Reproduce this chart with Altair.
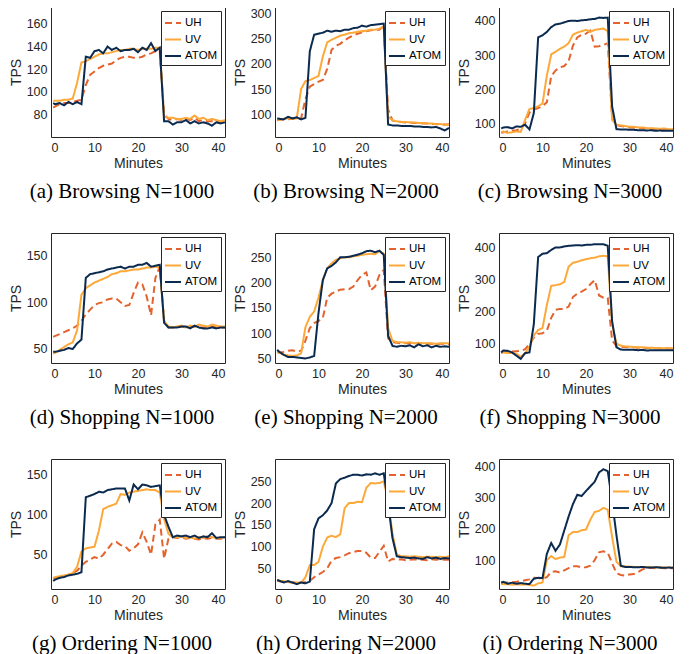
import altair as alt
import pandas as pd

MINUTES = [0.5, 1, 2, 3, 4, 5, 6, 7, 8, 9, 10, 11, 12, 13, 14, 15, 16, 17, 18, 19, 20,
           21, 22, 23, 24, 25, 26, 27, 28, 29, 30, 31, 32, 33, 34, 35, 36, 37, 38, 39, 40]

SERIES = ["UH", "UV", "ATOM"]
COLORS = ["#E4632D", "#FDA93A", "#0B2A4F"]
DASHES = [[7, 4], [1, 0], [1, 0]]
X_TICKS = [0, 10, 20, 30, 40]

# (a) Browsing N=1000
UH_A = [86, 87, 89, 90, 90, 91, 92, 93, 106, 115, 118, 121, 123, 124, 125, 128, 130, 131, 131, 130, 130,
        131, 133, 134, 136, 136, 80, 76, 75, 76, 75, 76, 75, 77, 74, 75, 74, 74, 74, 73, 74]
UV_A = [92, 92, 92, 93, 93, 94, 108, 126, 127, 129, 131, 133, 134, 134, 135, 136, 137, 137, 138, 138, 137,
        138, 138, 138, 139, 139, 78, 77, 77, 76, 76, 77, 76, 79, 76, 77, 75, 76, 75, 74, 75]
ATOM_A = [90, 89, 90, 88, 91, 89, 91, 89, 131, 130, 136, 137, 134, 140, 137, 139, 136, 137, 137, 138, 135,
          139, 137, 143, 136, 139, 74, 74, 71, 73, 73, 75, 72, 74, 72, 73, 72, 70, 73, 72, 73]

# (b) Browsing N=2000
UH_B = [88, 89, 90, 90, 91, 91, 92, 130, 155, 160, 165, 168, 190, 228, 236, 240, 247, 252, 257, 260, 263,
        265, 267, 268, 268, 275, 110, 88, 86, 85, 84, 84, 83, 83, 82, 82, 81, 81, 80, 80, 80]
UV_B = [90, 89, 91, 92, 91, 92, 150, 166, 168, 172, 176, 215, 243, 248, 252, 256, 258, 261, 262, 264, 265,
        266, 268, 268, 270, 274, 95, 88, 86, 85, 85, 84, 84, 83, 83, 82, 82, 80, 81, 79, 80]
ATOM_B = [92, 91, 90, 95, 92, 94, 90, 93, 225, 258, 260, 262, 266, 264, 266, 265, 268, 268, 271, 272, 276,
          274, 277, 278, 279, 280, 80, 78, 78, 77, 77, 77, 76, 76, 75, 75, 74, 75, 72, 68, 73]

# (c) Browsing N=3000
UH_C = [72, 74, 76, 78, 80, 84, 100, 132, 140, 145, 150, 162, 238, 255, 264, 268, 282, 328, 352, 360, 363,
        372, 325, 326, 330, 335, 115, 95, 92, 90, 88, 88, 86, 86, 85, 84, 83, 84, 82, 82, 82]
UV_C = [75, 76, 72, 74, 76, 75, 110, 142, 145, 150, 158, 240, 302, 310, 318, 325, 335, 360, 366, 370, 374,
        368, 374, 376, 378, 370, 110, 96, 94, 92, 90, 90, 88, 88, 86, 86, 85, 84, 85, 83, 82]
ATOM_C = [85, 88, 89, 85, 91, 90, 96, 82, 130, 352, 358, 368, 382, 390, 392, 396, 400, 401, 400, 402, 403,
          405, 406, 410, 409, 410, 150, 83, 82, 82, 81, 81, 80, 80, 79, 80, 78, 79, 78, 78, 78]

# (d) Shopping N=1000
UH_D = [63, 64, 66, 68, 70, 72, 75, 80, 87, 92, 97, 99, 100, 103, 104, 104, 100, 96, 97, 110, 121,
        119, 106, 86, 126, 138, 80, 73, 73, 74, 74, 73, 73, 74, 73, 73, 73, 74, 73, 73, 73]
UV_D = [45, 46, 49, 52, 55, 57, 70, 108, 115, 118, 121, 123, 125, 127, 130, 131, 133, 133, 134, 135, 135,
        136, 137, 137, 138, 137, 80, 74, 73, 74, 75, 73, 75, 74, 76, 75, 74, 76, 75, 74, 74]
ATOM_D = [47, 47, 48, 49, 51, 50, 56, 60, 126, 130, 131, 132, 133, 135, 136, 137, 138, 136, 138, 138, 140,
          140, 142, 138, 139, 140, 78, 73, 73, 73, 74, 74, 72, 75, 73, 72, 72, 73, 72, 73, 73]

# (e) Shopping N=2000
UH_E = [62, 62, 63, 65, 66, 64, 65, 85, 110, 120, 124, 130, 170, 178, 182, 186, 187, 187, 192, 205, 215,
        220, 185, 192, 215, 225, 90, 82, 81, 80, 80, 80, 80, 79, 80, 79, 79, 78, 79, 79, 78]
UV_E = [63, 61, 58, 56, 55, 56, 60, 112, 132, 143, 170, 205, 228, 238, 245, 248, 250, 250, 252, 253, 255,
        256, 257, 256, 262, 257, 110, 85, 82, 82, 81, 82, 80, 81, 80, 80, 80, 79, 80, 80, 80]
ATOM_E = [67, 63, 57, 53, 53, 52, 51, 50, 52, 55, 140, 205, 228, 233, 240, 250, 250, 251, 253, 255, 258,
          262, 263, 260, 263, 255, 95, 75, 73, 75, 74, 76, 72, 78, 74, 76, 72, 75, 73, 74, 73]

# (f) Shopping N=3000
UH_F = [71, 73, 76, 75, 76, 77, 82, 98, 118, 130, 132, 140, 180, 205, 208, 208, 215, 245, 256, 262, 270,
        285, 298, 250, 243, 242, 110, 92, 90, 89, 88, 88, 87, 87, 86, 86, 85, 85, 85, 84, 84]
UV_F = [71, 72, 70, 70, 68, 58, 70, 90, 125, 142, 148, 220, 280, 282, 285, 292, 340, 352, 355, 360, 363,
        366, 368, 372, 374, 372, 160, 100, 93, 91, 90, 89, 88, 88, 87, 87, 86, 85, 85, 84, 84]
ATOM_F = [72, 78, 77, 72, 62, 52, 70, 72, 160, 370, 380, 382, 392, 400, 400, 403, 405, 406, 407, 406, 408,
          408, 410, 410, 410, 405, 170, 88, 81, 80, 80, 80, 79, 80, 78, 79, 79, 79, 79, 79, 79]

# (g) Ordering N=1000
UH_G = [20, 21, 22, 23, 25, 27, 30, 36, 41, 44, 47, 45, 50, 57, 64, 66, 62, 61, 55, 58, 63,
        78, 66, 50, 88, 94, 45, 70, 72, 71, 72, 70, 71, 70, 69, 71, 70, 71, 70, 70, 71]
UV_G = [21, 22, 23, 24, 25, 27, 35, 54, 58, 59, 60, 80, 107, 110, 112, 114, 126, 125, 128, 129, 130,
        131, 132, 131, 131, 128, 95, 76, 72, 72, 73, 71, 72, 70, 72, 71, 73, 72, 71, 71, 72]
ATOM_G = [17, 19, 21, 22, 24, 25, 26, 28, 122, 124, 126, 129, 128, 131, 132, 133, 133, 133, 118, 138, 132,
          138, 137, 135, 136, 137, 100, 85, 72, 74, 73, 74, 72, 74, 71, 73, 72, 77, 71, 72, 72]

# (h) Ordering N=2000
UH_H = [22, 21, 20, 19, 18, 18, 18, 19, 22, 30, 36, 42, 50, 68, 74, 76, 80, 85, 88, 90, 90,
        86, 75, 74, 88, 102, 66, 72, 70, 71, 69, 70, 71, 70, 70, 69, 71, 70, 71, 70, 70]
UV_H = [24, 22, 21, 19, 18, 18, 17, 30, 58, 58, 65, 100, 121, 125, 122, 128, 188, 200, 200, 203, 202,
        235, 246, 245, 246, 250, 205, 130, 82, 78, 78, 77, 78, 77, 76, 77, 77, 76, 77, 76, 78]
ATOM_H = [24, 22, 18, 21, 18, 14, 18, 16, 20, 140, 165, 172, 183, 200, 245, 255, 258, 262, 265, 265, 263,
          266, 265, 268, 265, 268, 200, 120, 78, 76, 75, 74, 75, 73, 72, 76, 73, 75, 72, 74, 73]

# (i) Ordering N=3000
UH_I = [26, 27, 28, 29, 30, 32, 35, 38, 43, 42, 40, 45, 62, 64, 60, 67, 74, 80, 80, 76, 77,
        82, 100, 125, 128, 124, 90, 58, 52, 50, 54, 55, 62, 70, 74, 75, 74, 75, 74, 74, 74]
UV_I = [22, 23, 22, 21, 22, 21, 22, 20, 18, 25, 28, 100, 113, 103, 108, 110, 180, 190, 190, 196, 198,
        230, 255, 258, 268, 262, 175, 95, 80, 79, 79, 78, 78, 77, 78, 77, 76, 77, 76, 76, 76]
ATOM_I = [28, 30, 24, 27, 24, 26, 24, 23, 40, 43, 42, 120, 155, 130, 150, 195, 240, 280, 310, 306, 322,
          337, 352, 382, 392, 386, 290, 180, 82, 78, 78, 77, 77, 78, 76, 76, 77, 76, 75, 76, 75]

CAPTIONS = ["(a) Browsing N=1000", "(b) Browsing N=2000", "(c) Browsing N=3000",
            "(d) Shopping N=1000", "(e) Shopping N=2000", "(f) Shopping N=3000",
            "(g) Ordering N=1000", "(h) Ordering N=2000", "(i) Ordering N=3000"]
PANEL_DATA = [(UH_A, UV_A, ATOM_A), (UH_B, UV_B, ATOM_B), (UH_C, UV_C, ATOM_C),
              (UH_D, UV_D, ATOM_D), (UH_E, UV_E, ATOM_E), (UH_F, UV_F, ATOM_F),
              (UH_G, UV_G, ATOM_G), (UH_H, UV_H, ATOM_H), (UH_I, UV_I, ATOM_I)]
Y_DOMAINS = [[60, 175], [55, 313], [60, 441],
             [35, 174], [41, 298], [39, 445],
             [7, 170], [3, 301], [7, 425]]
Y_TICKS = [[80, 100, 120, 140, 160], [100, 150, 200, 250, 300], [100, 200, 300, 400],
           [50, 100, 150], [50, 100, 150, 200, 250], [100, 200, 300, 400],
           [50, 100, 150], [50, 100, 150, 200, 250], [100, 200, 300, 400]]

PANEL_W = 174
PANEL_H = 130


def make_panel(caption, series_vals, ydom, yticks):
    layers = []
    for name, vals in zip(SERIES, series_vals):
        df = pd.DataFrame({"Minutes": MINUTES, "TPS": vals, "series": [name] * len(MINUTES)})
        layer = alt.Chart(df).mark_line(strokeWidth=2, clip=True).encode(
            x=alt.X("Minutes:Q",
                    scale=alt.Scale(domain=[0, 40], nice=False),
                    axis=alt.Axis(values=X_TICKS, title="Minutes")),
            y=alt.Y("TPS:Q",
                    scale=alt.Scale(domain=ydom, nice=False, zero=False),
                    axis=alt.Axis(values=yticks, title="TPS")),
            color=alt.Color("series:N",
                            scale=alt.Scale(domain=SERIES, range=COLORS),
                            title=None),
            strokeDash=alt.StrokeDash("series:N",
                                      scale=alt.Scale(domain=SERIES, range=DASHES),
                                      title=None),
        )
        layers.append(layer)
    return alt.layer(*layers).properties(
        width=PANEL_W, height=PANEL_H,
        title=alt.Title(caption, orient="bottom", frame="group", anchor="middle",
                        dx=-16, offset=10, font="Liberation Serif", fontSize=21,
                        fontWeight="normal", color="black"),
    )


panels = [make_panel(c, d, yd, yt) for c, d, yd, yt in zip(CAPTIONS, PANEL_DATA, Y_DOMAINS, Y_TICKS)]

chart = alt.concat(*panels, columns=3, spacing={"row": 96, "column": 50}, bounds="flush").resolve_scale(
    color="independent", strokeDash="independent", x="independent", y="independent"
).resolve_legend(color="independent", strokeDash="independent").properties(
    padding={"left": 0, "top": -2, "right": 0, "bottom": 0}
).configure_view(
    stroke="#262626", strokeWidth=1
).configure_axis(
    domain=False, ticks=False, grid=False,
    labelFont="Liberation Sans", labelFontSize=12.5, labelColor="#262626", labelPadding=4,
    titleFont="Liberation Sans", titleFontSize=14, titleFontWeight="normal", titleColor="#262626",
    titlePadding=3,
).configure_legend(
    orient="top-right", offset=4, strokeColor="#262626", fillColor="white", padding=3,
    labelFont="Liberation Sans", labelFontSize=11.5, labelColor="black", labelOffset=3,
    symbolType="stroke", symbolStrokeWidth=2, symbolSize=256, rowPadding=1.5, cornerRadius=0,
)

chart.save("out.html", embed_options={"renderer": "svg", "actions": False})
